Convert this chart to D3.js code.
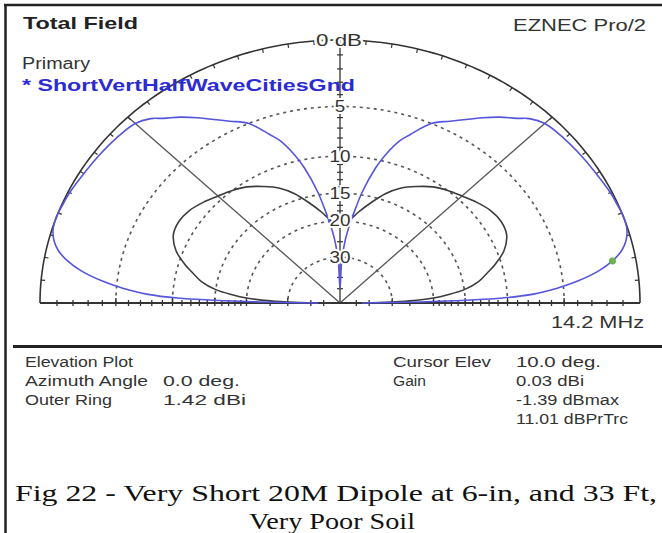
<!DOCTYPE html>
<html>
<head>
<meta charset="utf-8">
<script src="https://cdn.jsdelivr.net/npm/d3@7"></script>
<style>
body{margin:0;background:#fff;}
svg{display:block;}
</style>
</head>
<body>
<div id="chart"></div>
<script>
// elevation angles (deg) from horizon to zenith, pattern is mirrored for 90..180
var blueAngles = [0, 1, 2, 3, 4, 5, 6, 8, 10, 12, 14, 16, 18, 20, 22, 25, 30, 35, 40, 45, 48, 50, 53, 56, 58, 62, 66, 70, 72, 75, 77, 80, 82, 84, 86, 88, 90];
var blueDb     = [-45, -20, -10.5, -7.5, -6, -4.9, -3.9, -2.4, -1.39, -0.7, -0.3, -0.08, 0, 0, -0.05, -0.1, -0.25, -0.35, -0.45, -0.6, -1.0, -1.5, -2.1, -2.8, -3.3, -4.2, -5.0, -6.6, -7.4, -9.3, -11, -14.5, -17.7, -21, -25, -32, -50];
var blackAngles = [0, 1, 2, 3.5, 5, 7, 10, 13, 16, 20, 25, 30, 35, 40, 45, 50, 55, 60, 65, 70, 75, 80, 85, 90];
var blackDb     = [-60, -32, -25, -20, -17.5, -15, -13, -11.8, -10.6, -9.3, -8.4, -8.2, -8.4, -8.9, -9.5, -10, -10.6, -11.5, -12.5, -14, -16, -18, -20, -21];

var ringDb = [-5, -10, -15, -20, -30];
var ringLabels = ["5", "10", "15", "20", "30"];
var minorTickDb = [-1, -2, -3, -4, -6, -7, -8, -9, -11, -12, -13, -14, -16, -17, -18, -19, -25, -40, -50];

var cursorElev = 10, cursorDb = -1.39;

var infoLeftLabels = ["Elevation Plot", "Azimuth Angle", "Outer Ring"];
var infoLeftValues = ["", "0.0 deg.", "1.42 dBi"];
var infoRightLabels = ["Cursor Elev", "Gain", "", ""];
var infoRightValues = ["10.0 deg.", "0.03 dBi", "-1.39 dBmax", "11.01 dBPrTrc"];

function init(){
    var w = 662, h = 533;
    var cx = 340, cy = 303, rx = 300, ry = 263;

    var svg = d3.select("#chart").append("svg")
        .attr("width", w).attr("height", h);

    var xScale = d3.scaleLinear().domain([-1, 1]).range([cx - rx, cx + rx]);
    var yScale = d3.scaleLinear().domain([0, 1]).range([cy, cy - ry]);

    // ARRL log grid: 0.89 per 2 dB
    function arrl(db){ return Math.pow(0.89, -db / 2); }
    function pt(elev, db){
        var a = elev * Math.PI / 180, r = arrl(db);
        return [xScale(r * Math.cos(a)), yScale(r * Math.sin(a))];
    }

    var line = d3.line();
    var smooth = d3.line().curve(d3.curveCatmullRom);
    var halfCircle = d3.range(0, 181, 1);

    // dashed rings
    svg.selectAll(".ring").data(ringDb).enter().append("path")
        .attr("d", function(db){ return line(halfCircle.map(function(a){ return pt(a, db); })); })
        .attr("fill", "none").attr("stroke", "#555").attr("stroke-width", 1.6)
        .attr("stroke-dasharray", "3,4");

    // 45 deg lines
    svg.selectAll(".diag").data([45, 135]).enter().append("line")
        .attr("x1", cx).attr("y1", cy)
        .attr("x2", function(a){ return pt(a, 0)[0]; })
        .attr("y2", function(a){ return pt(a, 0)[1]; })
        .attr("stroke", "#555").attr("stroke-width", 1.3);

    // outer ring
    svg.append("path")
        .attr("d", line(halfCircle.map(function(a){ return pt(a, 0); })))
        .attr("fill", "none").attr("stroke", "#333").attr("stroke-width", 1.6);

    svg.selectAll(".otick").data(d3.range(5, 180, 5)).enter().append("line")
        .attr("x1", function(a){ return cx + rx * Math.cos(a * Math.PI / 180); })
        .attr("y1", function(a){ return cy - ry * Math.sin(a * Math.PI / 180); })
        .attr("x2", function(a){ return cx + (rx - 4) * Math.cos(a * Math.PI / 180); })
        .attr("y2", function(a){ return cy - (ry - 4) * Math.sin(a * Math.PI / 180); })
        .attr("stroke", "#333").attr("stroke-width", 1.2);

    // baseline + ticks
    svg.append("line")
        .attr("x1", xScale(-1)).attr("x2", xScale(1))
        .attr("y1", cy).attr("y2", cy)
        .attr("stroke", "#333").attr("stroke-width", 2);

    var tickDb = minorTickDb.concat(ringDb);
    [-1, 1].forEach(function(s){
        svg.selectAll(null).data(tickDb).enter().append("line")
            .attr("x1", function(db){ return xScale(s * arrl(db)); })
            .attr("x2", function(db){ return xScale(s * arrl(db)); })
            .attr("y1", function(db){ return cy - (ringDb.indexOf(db) >= 0 ? 5 : 3); })
            .attr("y2", cy + 3)
            .attr("stroke", "#333").attr("stroke-width", 1.3);
    });

    // vertical axis
    svg.append("line")
        .attr("x1", cx).attr("x2", cx)
        .attr("y1", yScale(1)).attr("y2", cy)
        .attr("stroke", "#333").attr("stroke-width", 1.3);
    svg.selectAll(".vtick").data(minorTickDb).enter().append("line")
        .attr("x1", cx - 3).attr("x2", cx + 3)
        .attr("y1", function(db){ return yScale(arrl(db)); })
        .attr("y2", function(db){ return yScale(arrl(db)); })
        .attr("stroke", "#333").attr("stroke-width", 1.2);

    // pattern traces
    function trace(angles, dbs){
        var pts = angles.map(function(a, i){ return pt(a, dbs[i]); });
        var mirror = angles.slice().reverse().map(function(a, i){
            return pt(180 - a, dbs[angles.length - 1 - i]);
        });
        return smooth(pts.concat(mirror.slice(1)));
    }

    svg.append("path")
        .attr("d", trace(blackAngles, blackDb))
        .attr("fill", "none").attr("stroke", "#3c3c3c").attr("stroke-width", 1.6);

    svg.append("path")
        .attr("d", trace(blueAngles, blueDb))
        .attr("fill", "none").attr("stroke", "#5555dd").attr("stroke-width", 1.6);

    // cursor dot
    var cp = pt(cursorElev, cursorDb);
    svg.append("circle").attr("cx", cp[0]).attr("cy", cp[1]).attr("r", 3.5)
        .attr("fill", "#6cb24e");

    function txt(x, y, s, opt){
        var t = svg.append("text").attr("x", x).attr("y", y).text(s)
            .attr("font-family", opt.family || "'Liberation Sans', Arial, sans-serif")
            .attr("font-size", opt.size + "px")
            .attr("fill", opt.fill || "#333");
        if (opt.bold) t.attr("font-weight", "bold");
        if (opt.anchor) t.attr("text-anchor", opt.anchor);
        if (opt.halo) t.attr("stroke", "#fff").attr("stroke-width", 4).attr("paint-order", "stroke");
        if (opt.middle) t.attr("dominant-baseline", "central");
        if (opt.len) t.attr("textLength", opt.len).attr("lengthAdjust", "spacingAndGlyphs");
        return t;
    }

    // ring labels
    txt(cx - 1, yScale(1), "0 dB", {size: 17, anchor: "middle", middle: true, halo: true, len: 46});
    ringDb.forEach(function(db, i){
        txt(cx, yScale(arrl(db)), ringLabels[i], {size: 17, anchor: "middle", middle: true, halo: true,
            len: ringLabels[i].length * 10.5});
    });

    // header
    txt(23, 29, "Total Field", {size: 17, bold: true, fill: "#222", len: 115});
    txt(513, 31, "EZNEC Pro/2", {size: 17, fill: "#333", len: 133});
    txt(22, 69, "Primary", {size: 16, fill: "#333", len: 68});
    txt(22, 91, "* ShortVertHalfWaveCitiesGnd", {size: 17, bold: true, fill: "#2b2bd4", len: 333});
    txt(551, 328, "14.2 MHz", {size: 17, fill: "#333", len: 93});

    // frame
    svg.append("line").attr("x1", 4).attr("x2", w).attr("y1", 5).attr("y2", 5)
        .attr("stroke", "#222").attr("stroke-width", 2.5);
    svg.append("line").attr("x1", 5.5).attr("x2", 5.5).attr("y1", 4).attr("y2", h)
        .attr("stroke", "#222").attr("stroke-width", 2.5);
    svg.append("line").attr("x1", 13).attr("x2", w).attr("y1", 346.5).attr("y2", 346.5)
        .attr("stroke", "#222").attr("stroke-width", 3);

    // info panel
    var rowY = [367, 386, 405, 424];
    var leftW = [108, 123, 87], leftValW = [0, 77, 83];
    var rightW = [98, 33, 0, 0], rightValW = [85, 68, 103, 112];
    infoLeftLabels.forEach(function(s, i){
        txt(25, rowY[i], s, {size: 14, len: leftW[i]});
        if (infoLeftValues[i]) txt(163, rowY[i], infoLeftValues[i], {size: 14, len: leftValW[i]});
    });
    infoRightLabels.forEach(function(s, i){
        if (s) txt(393, rowY[i], s, {size: 14, len: rightW[i]});
        txt(516, rowY[i], infoRightValues[i], {size: 14, len: rightValW[i]});
    });

    // caption
    var serif = "'Liberation Serif', 'Times New Roman', serif";
    txt(336, 501, "Fig 22 - Very Short 20M Dipole at 6-in, and 33 Ft,", {size: 24, family: serif, fill: "#111", anchor: "middle", len: 642});
    txt(332, 529, "Very Poor Soil", {size: 24, family: serif, fill: "#111", anchor: "middle", len: 166});
}

window.onload = init;
</script>
</body>
</html>
